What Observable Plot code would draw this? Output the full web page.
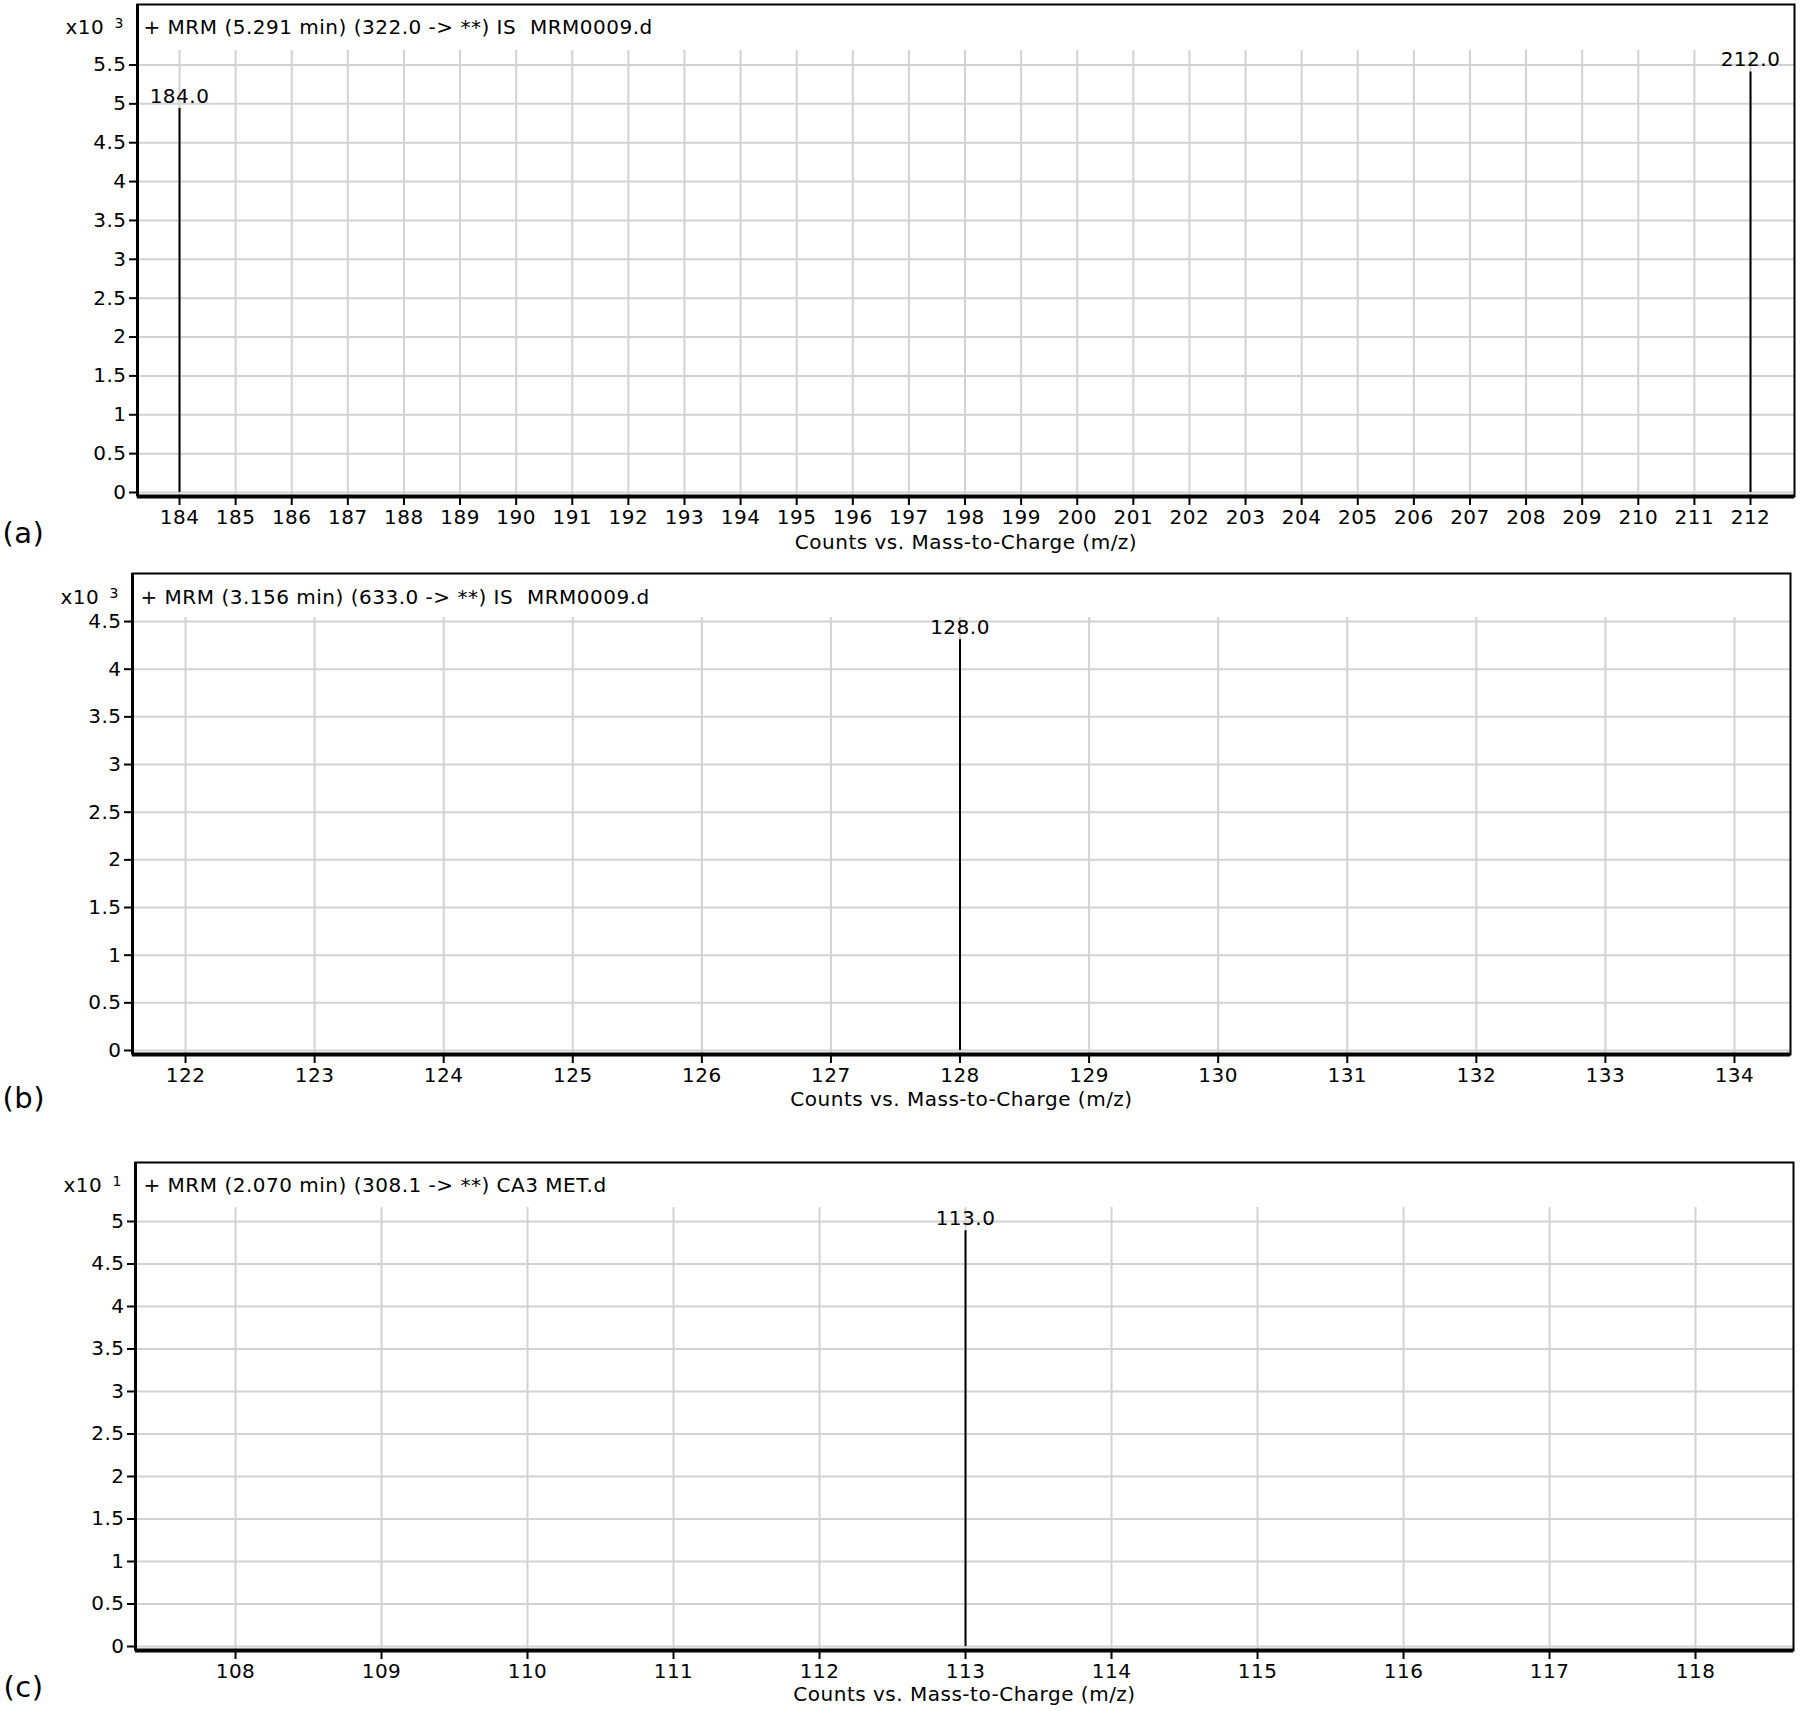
<!DOCTYPE html>
<html>
<head>
<meta charset="utf-8">
<script src="https://cdn.jsdelivr.net/npm/d3@7"></script>
<script src="https://cdn.jsdelivr.net/npm/@observablehq/plot@0.6"></script>
<style>
  html, body { margin: 0; padding: 0; background: #fff; overflow: hidden; }
  #chart { width: 1800px; }
  #chart svg { display: block; }
</style>
</head>
<body>
<div id="chart"></div>
<script>
// ---------- data (counts in units of the axis multiplier) ----------
const aTitle = "+ MRM (5.291 min) (322.0 -> **) IS  MRM0009.d";
const aExponent = "3";
const aMz = [184, 212];
const aCounts = [4.94, 5.41];
const aXTicks = [184,185,186,187,188,189,190,191,192,193,194,195,196,197,198,199,200,201,202,203,204,205,206,207,208,209,210,211,212];
const aYTicks = [0,0.5,1,1.5,2,2.5,3,3.5,4,4.5,5,5.5];

const bTitle = "+ MRM (3.156 min) (633.0 -> **) IS  MRM0009.d";
const bExponent = "3";
const bMz = [128];
const bCounts = [4.31];
const bXTicks = [122,123,124,125,126,127,128,129,130,131,132,133,134];
const bYTicks = [0,0.5,1,1.5,2,2.5,3,3.5,4,4.5];

const cTitle = "+ MRM (2.070 min) (308.1 -> **) CA3 MET.d";
const cExponent = "1";
const cMz = [113];
const cCounts = [4.89];
const cXTicks = [108,109,110,111,112,113,114,115,116,117,118];
const cYTicks = [0,0.5,1,1.5,2,2.5,3,3.5,4,4.5,5];

const xAxisTitle = "Counts vs. Mass-to-Charge (m/z)";

// ---------- layout ----------
const panels = [
  {tag: "(a)", title: aTitle, exponent: aExponent, mz: aMz, counts: aCounts, xticks: aXTicks, yticks: aYTicks,
   height: 560, mt: 4, mb: 64, ml: 137, mr: 6,
   xDomain: [183.251, 212.784], yDomain: [-0.0515, 6.278], gridTop: 5.686,
   titleDx: 6, titleDy: 23, tagDx: -135, tagDy: 37, xlabDy: 46},
  {tag: "(b)", title: bTitle, exponent: bExponent, mz: bMz, counts: bCounts, xticks: bXTicks, yticks: bYTicks,
   height: 590, mt: 13, mb: 96, ml: 132, mr: 10,
   xDomain: [121.589, 134.434], yDomain: [-0.042, 5.004], gridTop: 4.542,
   titleDx: 8, titleDy: 24, tagDx: -130, tagDy: 44, xlabDy: 45},
  {tag: "(c)", title: cTitle, exponent: cExponent, mz: cMz, counts: cCounts, xticks: cXTicks, yticks: cYTicks,
   height: 561, mt: 12, mb: 61, ml: 135, mr: 7,
   xDomain: [107.315, 118.671], yDomain: [-0.047, 5.694], gridTop: 5.165,
   titleDx: 8, titleDy: 23, tagDx: -132, tagDy: 37, xlabDy: 44}
];

const GRID = "#d2d2d2";
const fmt = d => String(d);

function panel(p) {
  const peaks = p.mz.map((mz, i) => ({mz, v: p.counts[i]}));
  return Plot.plot({
    width: 1800,
    height: p.height,
    marginTop: p.mt, marginBottom: p.mb, marginLeft: p.ml, marginRight: p.mr,
    style: "font-family: 'DejaVu Sans', sans-serif; font-size: 20px; letter-spacing: 0.5px; color: #000; background: #fff; overflow: visible;",
    x: {domain: p.xDomain},
    y: {domain: p.yDomain},
    marks: [
      Plot.ruleY(p.yticks, {stroke: GRID, strokeWidth: 2}),
      Plot.ruleX(p.xticks, {y1: p.yDomain[0], y2: p.gridTop, stroke: GRID, strokeWidth: 2}),
      Plot.ruleX(peaks, {x: "mz", y1: 0, y2: "v", stroke: "#000", strokeWidth: 2}),
      Plot.text(peaks, {x: "mz", y: "v", text: d => d.mz.toFixed(1), dy: -12, fontSize: 20, fill: "#000"}),
      Plot.frame({stroke: "#000", strokeWidth: 2}),
      Plot.ruleX([p.xDomain[0]], {stroke: "#000", strokeWidth: 3}),
      Plot.ruleY([p.yDomain[0]], {stroke: "#000", strokeWidth: 4}),
      Plot.axisX(p.xticks, {tickSize: 9, tickPadding: 4, strokeWidth: 2, tickFormat: fmt, fontSize: 20, label: null}),
      Plot.axisY(p.yticks, {tickSize: 8, tickPadding: 3, strokeWidth: 2, tickFormat: fmt, fontSize: 20, label: null}),
      Plot.text([p.title], {frameAnchor: "top-left", textAnchor: "start", lineAnchor: "middle", dx: p.titleDx, dy: p.titleDy, fontSize: 20, fill: "#000"}),
      Plot.text(["x10"], {frameAnchor: "top-left", textAnchor: "start", lineAnchor: "middle", dx: -72, dy: p.titleDy, fontSize: 20, fill: "#000"}),
      Plot.text([p.exponent], {frameAnchor: "top-left", textAnchor: "start", lineAnchor: "middle", dx: -23, dy: p.titleDy - 4, fontSize: 14, fill: "#000"}),
      Plot.text([xAxisTitle], {frameAnchor: "bottom", lineAnchor: "middle", dy: p.xlabDy, fontSize: 20, fill: "#000"}),
      Plot.text([p.tag], {frameAnchor: "bottom-left", textAnchor: "start", lineAnchor: "middle", dx: p.tagDx, dy: p.tagDy, fontSize: 29, fill: "#000", style: "letter-spacing:0"})
    ]
  });
}

const root = document.getElementById("chart");
for (const p of panels) root.appendChild(panel(p));
</script>
</body>
</html>
